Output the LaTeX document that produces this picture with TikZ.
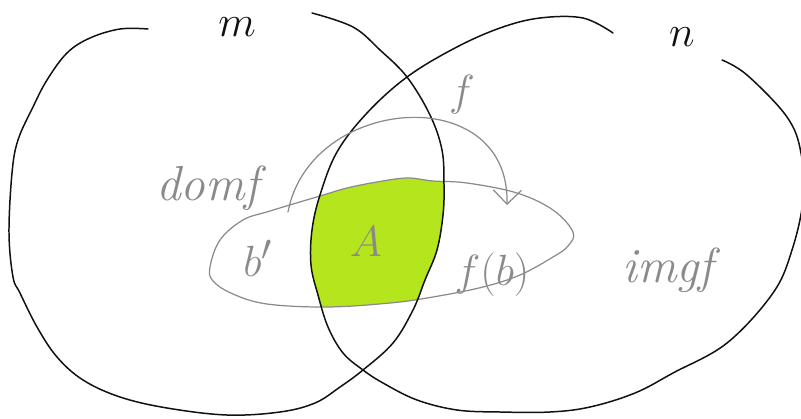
\documentclass[tikz,border=0pt]{standalone}
\usepackage{amsmath,amssymb}
\usepackage{xcolor}
\usepackage{tikz}
\usetikzlibrary{arrows.meta,positioning,calc}
\definecolor{SkInk}{HTML}{111111}
\definecolor{SkPencil}{HTML}{8A8A8A}
\definecolor{SkLime}{HTML}{B5E61D}
\colorlet{SkSet}{SkInk}
\colorlet{SkMeet}{SkLime}

\begin{document}
\begin{tikzpicture}[x=0.02cm, y=-0.02cm,
    setline/.style={draw=SkSet, line width=0.85pt, line cap=round, line join=round},
    penline/.style={draw=SkPencil, line width=0.7pt, line cap=round, line join=round},
    penlabel/.style={text=SkPencil, font=\fontsize{28}{30}\selectfont, inner sep=0pt},
    setlabel/.style={text=SkSet, font=\fontsize{46}{46}\selectfont, inner sep=0pt}]
  \useasboundingbox (0,0) rectangle (801,419);
  \path[save path=\leftblob] plot[smooth, tension=0.6] coordinates {
    (148,29) (120,29) (90,38) (67,53) (47,80) (33,107) (18,140) (12,173)
    (9,233) (13,277) (20,293) (37,327) (57,357) (83,380) (120,397) (167,408)
    (227,415) (280,412) (315,403) (340,387) (363,370) (393,343) (413,310)
    (425,280) (437,250) (443,215) (444,185) (442,150) (430,115) (407,77)
    (380,50) (353,27) (312,13)};
  \path[save path=\rightblob] plot[smooth, tension=0.6] coordinates {
    (613,33) (583,18) (540,18) (500,28) (455,48) (407,77) (367,113) (337,152)
    (320,195) (312,230) (311,265) (318,295) (328,327) (343,353) (363,370)
    (383,383) (417,400) (457,410) (500,412) (550,412) (590,407) (635,393)
    (673,373) (727,343) (773,293) (792,250) (803,200) (801,153) (787,117)
    (747,75) (722,60)};
  \path[save path=\lens] plot[smooth cycle, tension=0.6] coordinates {
    (210,267) (220,240) (243,220) (270,211) (320,196) (347,188) (377,182)
    (407,178) (433,181) (467,183) (517,193) (553,210) (573,232) (568,246)
    (553,257) (520,275) (483,287) (433,297) (390,303) (327,307) (267,304)
    (233,294) (213,281)};
  \begin{scope}
    \clip[use path=\leftblob];
    \clip[use path=\rightblob];
    \fill[SkMeet, use path=\lens];
  \end{scope}
  \draw[penline, use path=\lens];
  \draw[setline, use path=\leftblob];
  \draw[setline, use path=\rightblob];

  \coordinate (fstart) at (288,212);
  \coordinate (fend) at (507,205);
  \draw[penline, -{Straight Barb[length=8pt,width=16pt]}]
    (fstart) .. controls (310,95) and (510,80) .. (fend);

  \node[penlabel] (flab) at (462,95) {$f$};
  \node[penlabel] (dom) at (208,188) {\itshape domf};
  \node[penlabel] (bp) at (258,258) {$b'$};
  \node[penlabel] (A) at (366,242) {$A$};
  \node[penlabel] (fb) at (492,275) {$f(b)$};
  \node[penlabel] (img) at (668,270) {\itshape imgf};
  \node[setlabel] (M) at (237,27) {$m$};
  \node[setlabel] (N) at (682,37) {$n$};
\end{tikzpicture}
\end{document}
